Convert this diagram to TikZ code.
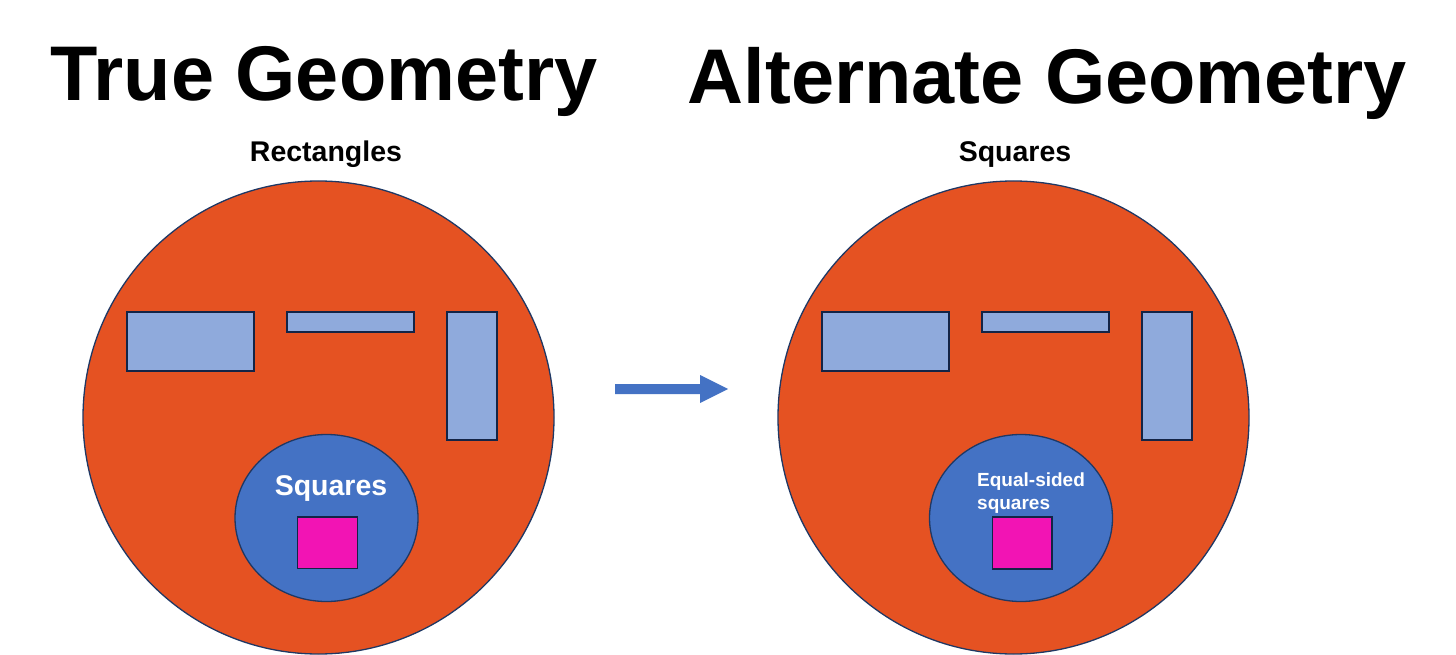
\documentclass[tikz,border=0pt]{standalone}
\usepackage{fontspec}
\setmainfont{Liberation Sans}
\definecolor{orangefill}{RGB}{229,82,34}
\definecolor{navyline}{RGB}{31,56,100}
\definecolor{darknavy}{RGB}{20,36,70}
\definecolor{lightblue}{RGB}{143,170,220}
\definecolor{midblue}{RGB}{68,114,196}
\definecolor{pinkfill}{RGB}{242,20,180}
\tikzset{
  bigcircle/.style={fill=orangefill,draw=navyline,line width=1.3pt},
  innerell/.style={fill=midblue,draw=navyline,line width=1.3pt},
  lightrect/.style={fill=lightblue,draw=darknavy,line width=1.7pt},
  pinkrect/.style={fill=pinkfill,draw=darknavy,line width=1.4pt},
  titletext/.style={inner sep=0pt,anchor=base,font=\bfseries\fontsize{77.5}{80}\selectfont},
  labeltext/.style={inner sep=0pt,anchor=base,font=\bfseries\fontsize{28.5}{32}\selectfont},
}
\begin{document}
\begin{tikzpicture}[x=1pt,y=-1pt]
\useasboundingbox (0,0) rectangle (1456,655);
\fill[white] (0,0) rectangle (1456,655);
% titles
\node[titletext] (t1) at (324,101) {True Geometry};
\node[titletext] (t2) at (1047.5,104) {Alternate Geometry};
\node[labeltext] (l1) at (326,162) {Rectangles};
\node[labeltext] (l2) at (1015,162) {Squares};
% left diagram
\draw[bigcircle] (318.5,417.5) ellipse [x radius=235.5, y radius=236.5];
\draw[lightrect] (126.7,312) rectangle (254,371);
\draw[lightrect] (287,312) rectangle (413.7,332);
\draw[lightrect] (446.7,312) rectangle (496.7,439.7);
\draw[innerell] (326.5,518) ellipse [x radius=91.5, y radius=83.5];
\draw[pinkrect] (297.7,517) rectangle (357.3,568.7);
\node[labeltext,text=white] (s1) at (331,495) {Squares};
% right diagram
\draw[bigcircle] (1013.5,417.5) ellipse [x radius=235.5, y radius=236.5];
\draw[lightrect] (821.7,312) rectangle (949,371);
\draw[lightrect] (982,312) rectangle (1108.7,332);
\draw[lightrect] (1141.7,312) rectangle (1191.7,439.7);
\draw[innerell] (1021,518) ellipse [x radius=91.5, y radius=83.5];
\draw[pinkrect] (992.7,517) rectangle (1052,569);
\node[inner sep=0pt,anchor=base west,text=white,align=left,
  font=\bfseries\fontsize{19}{23}\selectfont] (s2) at (977,509) {Equal-sided\\squares};
% arrow
\fill[midblue] (615,384) -- (700,384) -- (700,375) -- (728,389) -- (700,403) -- (700,394) -- (615,394) -- cycle;
\end{tikzpicture}
\end{document}
